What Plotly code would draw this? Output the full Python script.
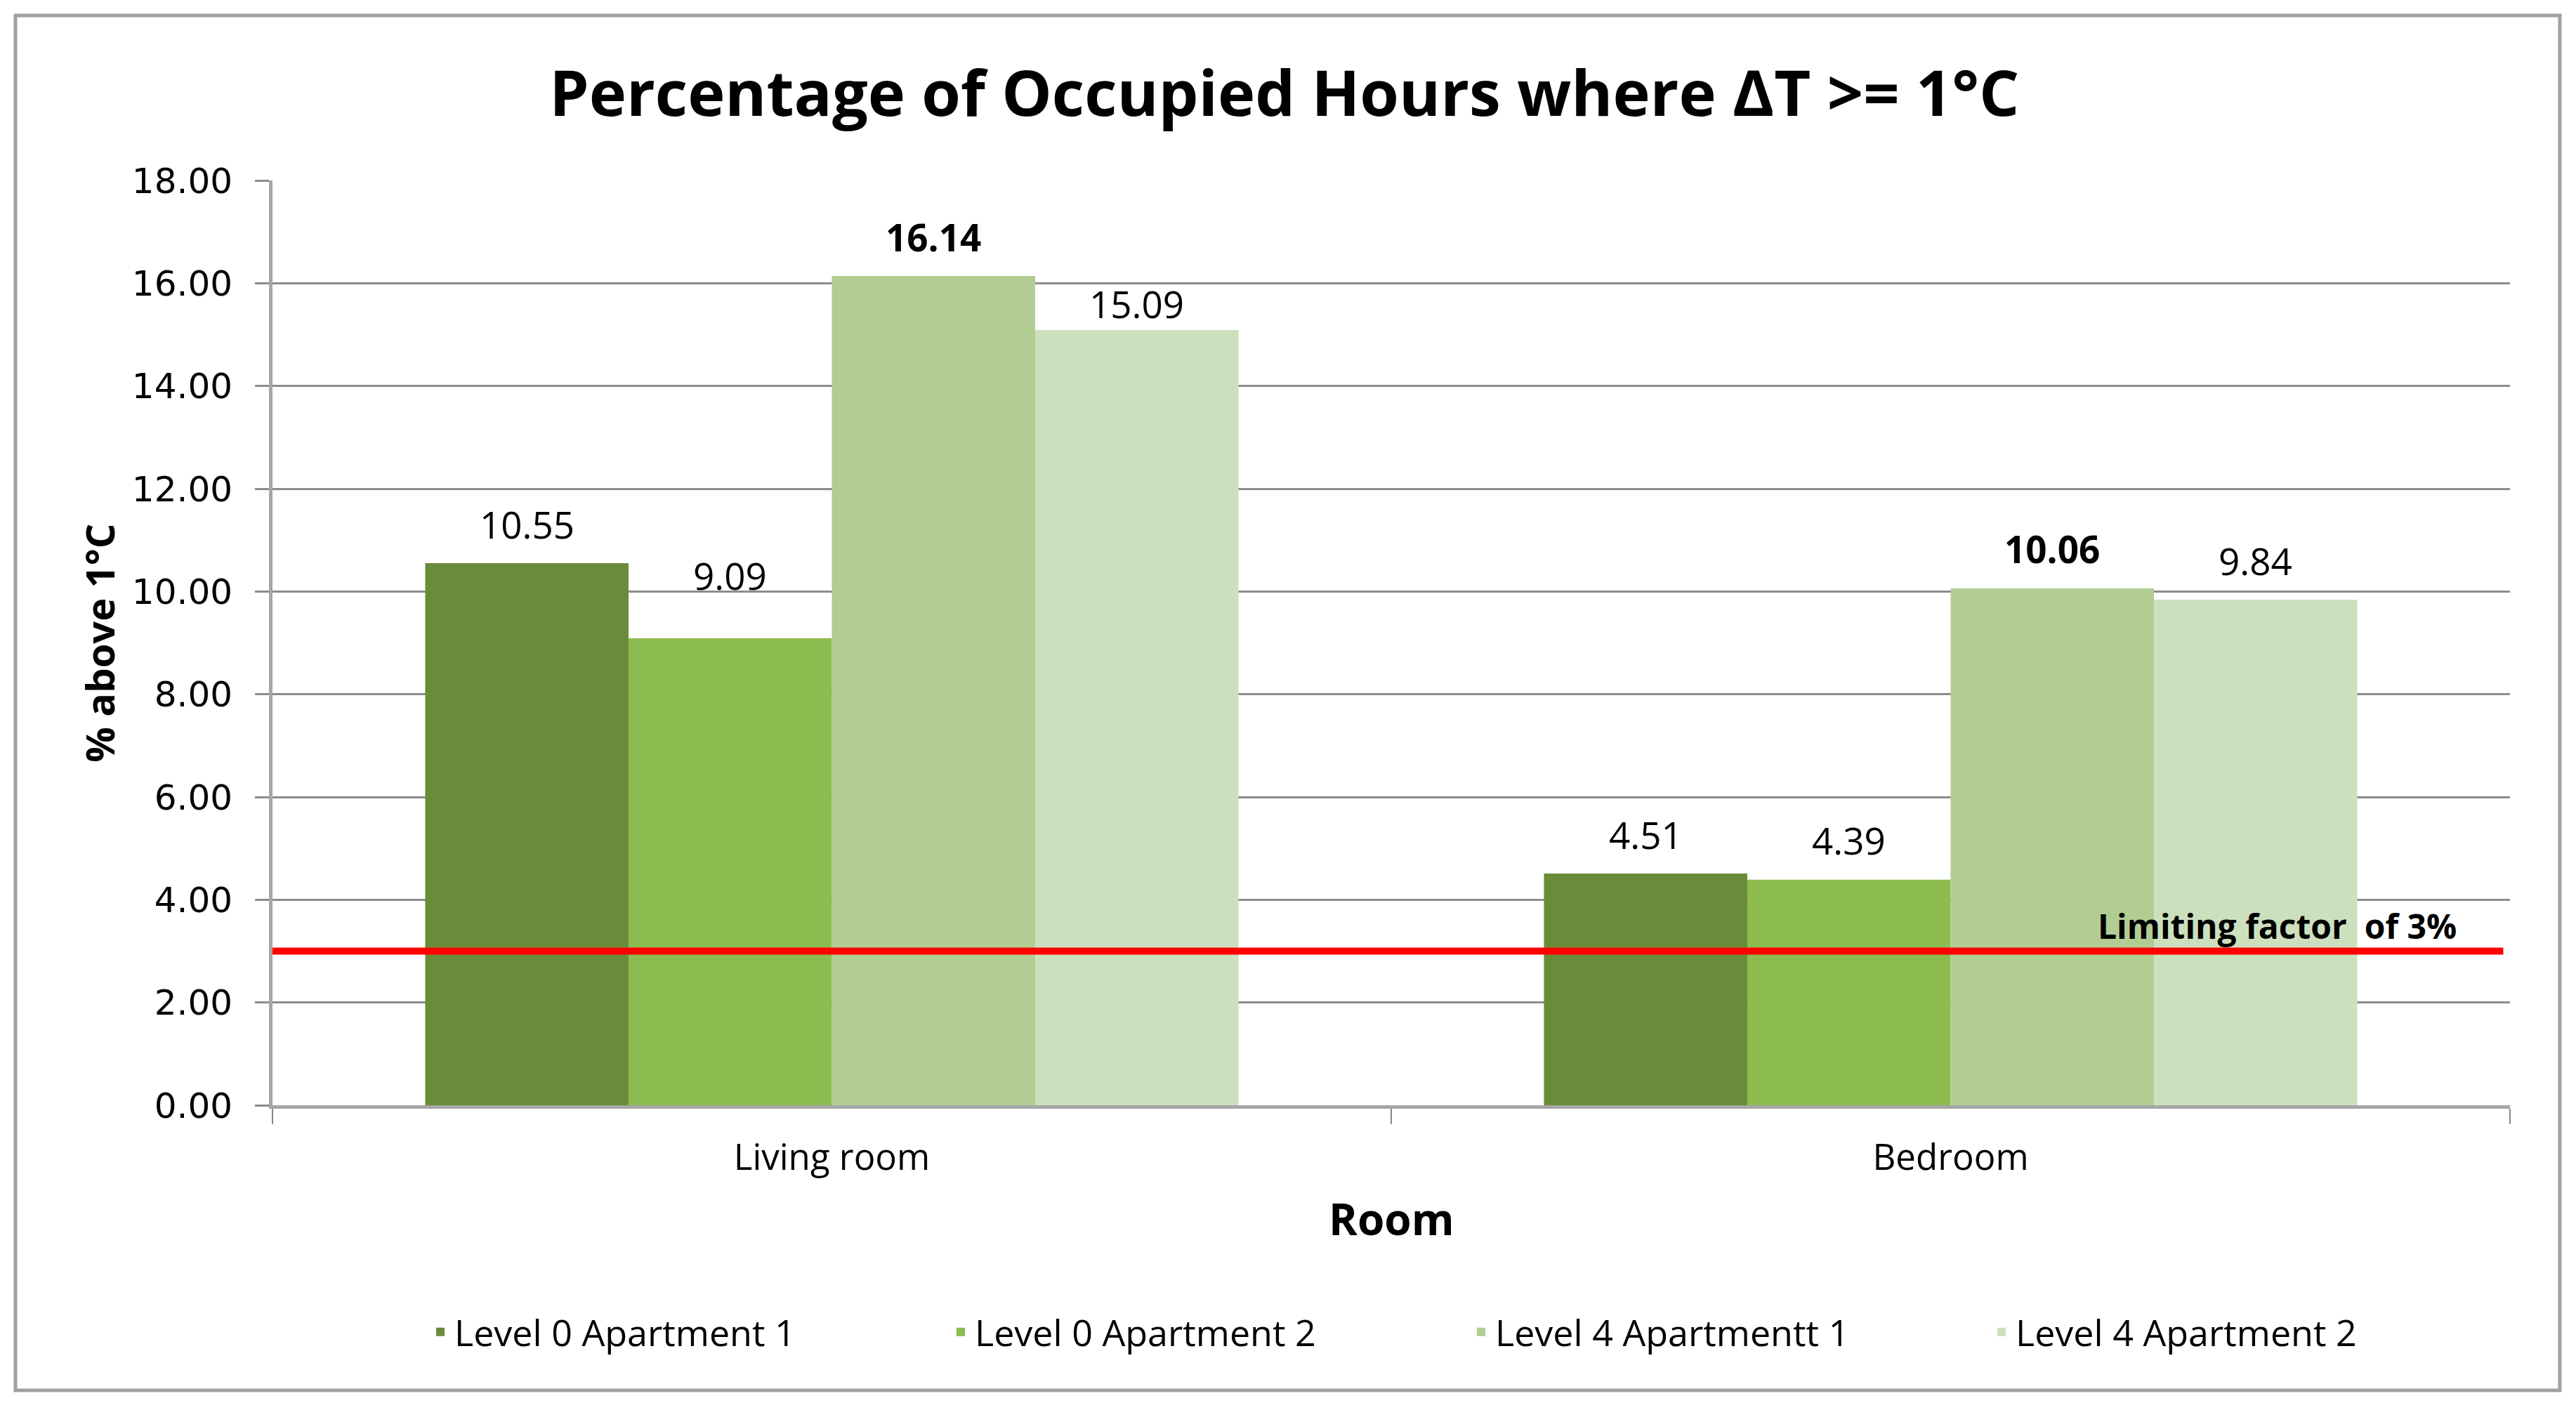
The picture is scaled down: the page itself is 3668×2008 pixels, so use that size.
import plotly.graph_objects as go

categories = ["Living room", "Bedroom"]
series_names = ["Level 0 Apartment 1", "Level 0 Apartment 2", "Level 4 Apartmentt 1", "Level 4 Apartment 2"]
level0_apt1 = [10.55, 4.51]
level0_apt2 = [9.09, 4.39]
level4_apt1 = [16.14, 10.06]
level4_apt2 = [15.09, 9.84]
limit_value = 3
y_ticks = [0, 2, 4, 6, 8, 10, 12, 14, 16, 18]

colors = ["#6a8c3a", "#8cbb4f", "#b1cd93", "#cde0bd"]
bold_labels = [False, False, True, False]
series_values = [level0_apt1, level0_apt2, level4_apt1, level4_apt2]
# vertical offset (px) of each data label above its bar, per series / category
label_offsets = [[56, 56], [89, 56], [56, 56], [37, 56]]

# page has an 8px body margin; figure is sized/positioned to compensate
W, H = 3660, 2000
ML, MR, MT, MB = 380, 94, 249, 434
PW, PH = W - ML - MR, H - MT - MB
BARGAP = 0.273

fig = go.Figure()
for name, vals, col in zip(series_names, series_values, colors):
    fig.add_trace(go.Bar(x=categories, y=vals, name=name, marker=dict(color=col, line=dict(width=0)),
                         hoverinfo="skip"))

annotations = []
n = len(series_values)
w = (1 - BARGAP) / n
for i, vals in enumerate(series_values):
    for j, v in enumerate(vals):
        txt = f"{v:.2f}"
        if bold_labels[i]:
            txt = f"<b>{txt}</b>"
        annotations.append(dict(x=j + (i - (n - 1) / 2) * w, y=v, xref="x", yref="y", text=txt,
                                showarrow=False, yanchor="middle", xanchor="center",
                                yshift=label_offsets[i][j],
                                font=dict(family="Open Sans", size=53, color="#000000")))

annotations.append(dict(x=0.8958, y=limit_value, xref="paper", yref="y", text="<b>Limiting factor  of 3%</b>",
                        showarrow=False, xanchor="center", yanchor="middle", yshift=36,
                        font=dict(family="Open Sans", size=48, color="#000000")))
annotations.append(dict(x=-0.0778, y=0.5, xref="paper", yref="paper", text="<b>% above 1°C</b>",
                        textangle=-90, showarrow=False, xanchor="center", yanchor="middle",
                        font=dict(family="Open Sans", size=56, color="#000000")))
annotations.append(dict(x=0.5, y=-0.1222, xref="paper", yref="paper", text="<b>Room</b>",
                        showarrow=False, xanchor="center", yanchor="middle",
                        font=dict(family="Open Sans", size=62, color="#000000")))

shapes = [
    dict(type="line", xref="paper", yref="y", x0=0, x1=0.997, y0=limit_value, y1=limit_value,
         line=dict(color="#ff0000", width=10), layer="above"),
    dict(type="rect", xref="paper", yref="paper",
         x0=(14 - ML) / PW, x1=(3637 - ML) / PW,
         y0=(H - MB - 1972) / PH, y1=(H - MB - 14) / PH,
         line=dict(color="#a0a0a0", width=5), layer="below"),
]

fig.update_layout(
    width=W, height=H,
    margin=dict(l=ML, r=MR, t=MT, b=MB, autoexpand=False),
    paper_bgcolor="#ffffff", plot_bgcolor="#ffffff",
    barmode="group", bargap=BARGAP, bargroupgap=0,
    title=dict(text="<b>Percentage of Occupied Hours where ΔT >= 1°C</b>", x=0.4975, xanchor="center",
               y=1 - 125 / H, yanchor="middle", yref="container",
               font=dict(family="Open Sans", size=90, color="#000000")),
    font=dict(family="Open Sans", color="#000000"),
    showlegend=True,
    legend=dict(orientation="h", x=(599 - ML) / PW, xanchor="left",
                y=(H - MB - 1889) / PH, yanchor="middle",
                entrywidth=696, entrywidthmode="pixels", traceorder="normal",
                font=dict(family="Open Sans", size=52, color="#000000"),
                bgcolor="rgba(0,0,0,0)", itemclick=False),
    annotations=annotations,
    shapes=shapes,
)

fig.update_xaxes(type="category", showline=True, linecolor="#a6a6a6", linewidth=5,
                 ticks="outside", tickson="boundaries", ticklen=22, tickwidth=2, tickcolor="#888888",
                 ticklabelstandoff=26,
                 tickfont=dict(family="Open Sans", size=51, color="#000000"), showgrid=False,
                 range=[-0.5, 1.5])
fig.update_yaxes(range=[0, 18], tickvals=y_ticks, tickformat=".2f",
                 showline=True, linecolor="#a6a6a6", linewidth=5,
                 ticks="outside", ticklen=20, tickwidth=3, tickcolor="#8c8c8c",
                 ticklabelstandoff=22,
                 showgrid=True, gridcolor="#8c8c8c", gridwidth=3, zeroline=False,
                 tickfont=dict(family="DejaVu Sans", size=50, color="#000000"))

fig.write_html("out.html")
